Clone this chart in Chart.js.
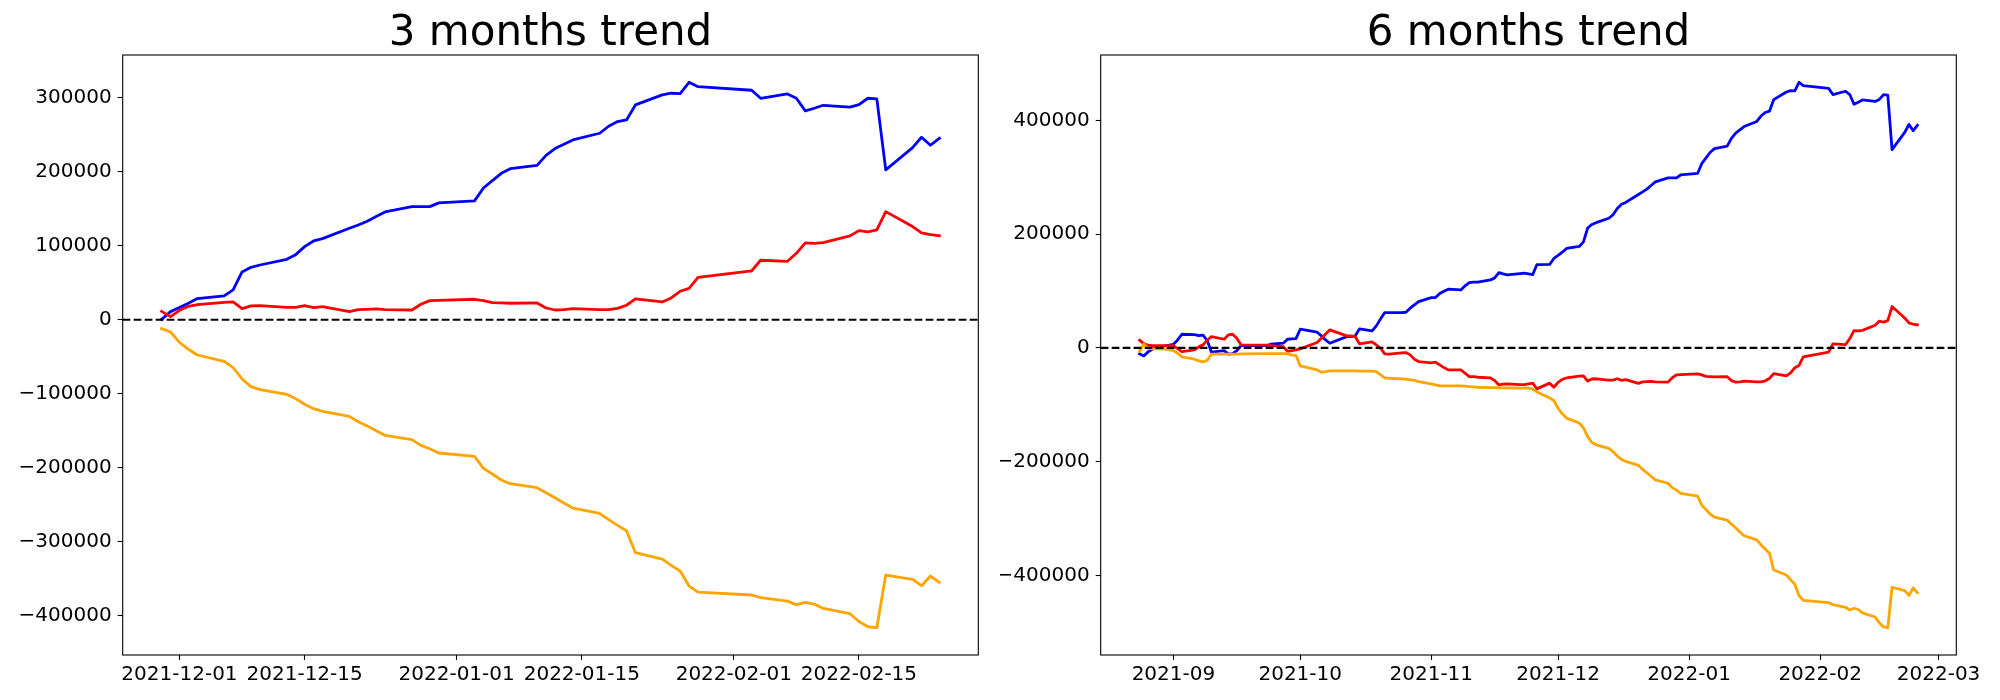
<!DOCTYPE html>
<html>
<head>
<meta charset="utf-8">
<title>3 / 6 months trend</title>
<script src="https://cdn.jsdelivr.net/npm/chart.js@4.4.1/dist/chart.umd.min.js"></script>
<style>
  html, body { margin: 0; padding: 0; background: #fff; overflow: hidden; }
  #wrap { position: relative; width: 2000px; height: 700px; }
  canvas { position: absolute; top: 0; }
  #chart3m { left: 0; }
  #chart6m { left: 1000px; }
</style>
</head>
<body>
<div id="wrap">
  <canvas id="chart3m" width="1000" height="700"></canvas>
  <canvas id="chart6m" width="1000" height="700"></canvas>
</div>
<script>
// ---- data: 3 months ----
const dates3m = [
  '2021-11-29','2021-11-30','2021-12-01','2021-12-02','2021-12-03','2021-12-06','2021-12-07','2021-12-08','2021-12-09','2021-12-10',
  '2021-12-13','2021-12-14','2021-12-15','2021-12-16','2021-12-17','2021-12-20','2021-12-21','2021-12-22','2021-12-23','2021-12-24',
  '2021-12-27','2021-12-28','2021-12-29','2021-12-30','2022-01-03','2022-01-04','2022-01-05','2022-01-06','2022-01-07','2022-01-10',
  '2022-01-11','2022-01-12','2022-01-13','2022-01-14','2022-01-17','2022-01-18','2022-01-19','2022-01-20','2022-01-21','2022-01-24',
  '2022-01-25','2022-01-26','2022-01-27','2022-01-28','2022-02-03','2022-02-04','2022-02-07','2022-02-08','2022-02-09','2022-02-10',
  '2022-02-11','2022-02-14','2022-02-15','2022-02-16','2022-02-17','2022-02-18','2022-02-21','2022-02-22','2022-02-23','2022-02-24'
];
const blue3m = [
  500, 11000, 16500, 22300, 28600, 32200, 40300, 64600, 70900, 74000,
  81700, 88000, 98800, 106500, 109600, 123600, 128100, 133100, 139400, 145700,
  152900, 152900, 152900, 157900, 160600, 178100, 188000, 197900, 204200, 208700,
  222200, 231300, 237100, 243000, 252000, 261500, 267800, 270000, 290300, 303800,
  306100, 305600, 320900, 315000, 310100, 299300, 305100, 299300, 282200, 285800,
  289800, 287200, 290700, 299300, 298400, 202500, 232700, 246600, 235800, 245300
];
const red3m = [
  11400, 4200, 12800, 18200, 20500, 23600, 24100, 15000, 18700, 19100,
  16800, 16800, 19100, 16400, 17700, 11000, 13700, 14100, 14600, 13700,
  13200, 20900, 25900, 26300, 27700, 25900, 23200, 22700, 22300, 22700,
  15900, 13200, 13700, 15000, 13700, 13700, 15500, 19600, 28100, 24100,
  29500, 38500, 42500, 57400, 66000, 80400, 79000, 89800, 103800, 103300,
  104200, 113300, 120500, 118700, 121400, 146100, 125900, 117300, 115000, 113700
];
const orange3m = [
  -12000, -16500, -30500, -39900, -47600, -56100, -64700, -80000, -90400, -94400,
  -100700, -106600, -114200, -120100, -123700, -130500, -137700, -143600, -149800, -156100,
  -162000, -169700, -174200, -180000, -184500, -200700, -208400, -216500, -221500, -226900,
  -233600, -240400, -247600, -254400, -261600, -270100, -277800, -285000, -314700, -323300,
  -331800, -339500, -359800, -367900, -371900, -375500, -380100, -385000, -381900, -384100,
  -390000, -397200, -407600, -414800, -416100, -344900, -350800, -359300, -346300, -354800
];
const xTicks3m = ['2021-12-01','2021-12-15','2022-01-01','2022-01-15','2022-02-01','2022-02-15'];
const yTicks3m = [-400000, -300000, -200000, -100000, 0, 100000, 200000, 300000];

// ---- data: 6 months ----
const dates6m = [
  '2021-08-24','2021-08-25','2021-08-26','2021-08-27','2021-08-30','2021-08-31',
  '2021-09-01','2021-09-02','2021-09-03','2021-09-06','2021-09-07','2021-09-08','2021-09-09','2021-09-10','2021-09-13','2021-09-14',
  '2021-09-15','2021-09-16','2021-09-17','2021-09-23','2021-09-24','2021-09-27','2021-09-28','2021-09-29','2021-09-30',
  '2021-10-01','2021-10-05','2021-10-06','2021-10-07','2021-10-08','2021-10-12','2021-10-13','2021-10-14','2021-10-15','2021-10-18',
  '2021-10-19','2021-10-20','2021-10-21','2021-10-22','2021-10-25','2021-10-26','2021-10-27','2021-10-28','2021-10-29',
  '2021-11-01','2021-11-02','2021-11-03','2021-11-04','2021-11-05','2021-11-08','2021-11-09','2021-11-10','2021-11-11','2021-11-12',
  '2021-11-15','2021-11-16','2021-11-17','2021-11-18','2021-11-19','2021-11-22','2021-11-23','2021-11-24','2021-11-25','2021-11-26'
].concat(dates3m);
const blue6m = [
  -10500, -14100, -7000, -2300, 3500, 4700,
  6400, 14000, 24000, 23500, 21700, 22300, 13000, -7600, -4700, -11000, -10000, -4700, 4100, 4100, 6400, 8200, 15200, 15800, 16400,
  32800, 27600, 21100, 14100, 8200, 19900, 19900, 21000, 33400, 29900, 38700, 51000, 62100, 62100, 62100, 62700, 69800, 75600, 81500,
  88500, 88500, 95600, 99700, 103200, 102000, 109100, 114900, 115500, 115500, 119600, 123000, 132500, 130100, 128400, 130700, 131300, 130200, 129000, 146600,
  146700, 157200, 162700, 168500, 174800, 178400, 186500, 210800, 217100, 220200,
  227900, 234200, 245000, 252700, 255800, 269800, 274300, 279300, 285600, 291900,
  299100, 299100, 299100, 304100, 306800, 324300, 334200, 344100, 350400, 354900,
  368400, 377500, 383300, 389200, 398200, 407700, 414000, 416200, 436500, 450000,
  452300, 451800, 467100, 461200, 456300, 445500, 451300, 445500, 428400, 432000,
  436000, 433400, 436900, 445500, 444600, 348700, 378900, 392800, 382000, 391500
];
const red6m = [
  13500, 7600, 4700, 4100, 4100, 4100,
  4100, -1200, -6400, -3500, 1800, 5300, 13500, 19900, 15200, 22900, 24000, 17000, 5300, 4700, 4100, 2300, -5900, -4700, -3500,
  -1800, 9400, 17000, 24600, 31700, 21100, 21100, 20000, 7000, 10600, 5300, -600, -10600, -11000, -8800, -8200, -12300, -19900, -24000,
  -26400, -25200, -29900, -34600, -38700, -38700, -44600, -50400, -50400, -51600, -52800, -57500, -65100, -63900, -63300, -64500, -64500, -63300, -62100, -72100,
  -62000, -69200, -60600, -55200, -52900, -49800, -49300, -58400, -54700, -54300,
  -56600, -56600, -54300, -57000, -55700, -62400, -59700, -59300, -58800, -59700,
  -60200, -52500, -47500, -47100, -45700, -47500, -50200, -50700, -51100, -50700,
  -57500, -60200, -59700, -58400, -59700, -59700, -57900, -53800, -45300, -49300,
  -43900, -34900, -30900, -16000, -7400, 7000, 5600, 16400, 30400, 29900,
  30800, 39900, 47100, 45300, 48000, 72700, 52500, 43900, 41600, 40300
];
const orange6m = [
  -6000, 7000, -1000, -1800, -2300, -3500,
  -4700, -9400, -15800, -19900, -22900, -24600, -22000, -11100, -11100, -11100, -11100, -11100, -10600, -10000, -10000, -10000, -10600, -12300, -13500,
  -31700, -38700, -42800, -41600, -40500, -40500, -40500, -40500, -41000, -41000, -41600, -47500, -52800, -53400, -54500, -55100, -56300, -56900, -59200,
  -63300, -65100, -66800, -66800, -66800, -66800, -67400, -68000, -68600, -69200, -69800, -69800, -70400, -70400, -70400, -70900, -70900, -70900, -72700, -77400,
  -88000, -92500, -106500, -115900, -123600, -132100, -140700, -156000, -166400, -170400,
  -176700, -182600, -190200, -196100, -199700, -206500, -213700, -219600, -225800, -232100,
  -238000, -245700, -250200, -256000, -260500, -276700, -284400, -292500, -297500, -302900,
  -309600, -316400, -323600, -330400, -337600, -346100, -353800, -361000, -390700, -399300,
  -407800, -415500, -435800, -443900, -447900, -451500, -456100, -461000, -457900, -460100,
  -466000, -473200, -483600, -490800, -492100, -420900, -426800, -435300, -422300, -430800
];
const xTicks6m = ['2021-09','2021-10','2021-11','2021-12','2022-01','2022-02','2022-03'];
const yTicks6m = [-400000, -200000, 0, 200000, 400000];

// ---- helpers ----
const dayNum = s => Date.parse((s.length === 7 ? s + '-01' : s) + 'T00:00:00Z') / 864e5;

// matplotlib style autoscale: data range plus 5% on each side
const withMargin = (lo, hi) => {
    const m = (hi - lo) * 0.05;
    return [lo - m, hi + m];
};

const tickFont = { family: 'DejaVu Sans', size: 20 };
const axisGrid = {
    display: true,
    drawOnChartArea: false,
    drawTicks: true,
    tickLength: 5,
    tickColor: '#000',
    tickWidth: 1.1
};

// frame of the axes + dashed zero line
const axesDecor = {
    id: 'axesDecor',
    afterDatasetsDraw(chart) {
        const { ctx, chartArea: a, scales: { y } } = chart;
        const py = y.getPixelForValue(0);
        ctx.save();
        ctx.strokeStyle = '#000';
        ctx.lineWidth = 2.1;
        ctx.setLineDash([7.7, 3.3]);
        ctx.beginPath();
        ctx.moveTo(a.left, py);
        ctx.lineTo(a.right, py);
        ctx.stroke();
        ctx.restore();
    },
    afterDraw(chart) {
        const { ctx, chartArea: a } = chart;
        ctx.save();
        ctx.strokeStyle = '#000';
        ctx.lineWidth = 1.1;
        ctx.strokeRect(a.left, a.top, a.right - a.left, a.bottom - a.top);
        ctx.restore();
    }
};

const makeChart = (canvasId, opts) => {
    const xs = opts.dates.map(dayNum);
    const allY = opts.series.flatMap(s => s.values);
    const xb = withMargin(Math.min(...xs), Math.max(...xs));
    const yb = withMargin(Math.min(...allY), Math.max(...allY));

    const datasets = opts.series.map(s => ({
        data: s.values.map((v, i) => ({ x: xs[i], y: v })),
        borderColor: s.color,
        borderWidth: 2.8,
        pointRadius: 0,
        tension: 0,
        fill: false,
        borderJoinStyle: 'round',
        borderCapStyle: 'square',
        order: s.order
    }));

    return new Chart(document.getElementById(canvasId), {
        type: 'line',
        data: { datasets },
        plugins: [axesDecor],
        options: {
            responsive: false,
            animation: false,
            devicePixelRatio: 1,
            layout: { padding: { left: 0, right: opts.padRight, top: 0, bottom: 0 } },
            plugins: {
                legend: { display: false },
                tooltip: { enabled: false },
                title: {
                    display: true,
                    text: opts.title,
                    fullSize: false,
                    color: '#000',
                    font: { family: 'DejaVu Sans', size: 42, weight: 'normal', lineHeight: 1 },
                    padding: { top: 13, bottom: 0 }
                }
            },
            scales: {
                x: {
                    type: 'linear',
                    min: xb[0],
                    max: xb[1],
                    afterBuildTicks: s => { s.ticks = opts.xTicks.map(t => ({ value: dayNum(t) })); },
                    afterFit: s => { s.height = 45; },
                    ticks: {
                        autoSkip: false,
                        maxRotation: 0,
                        padding: 3,
                        color: '#000',
                        font: tickFont,
                        callback: (v, i) => opts.xTicks[i]
                    },
                    grid: axisGrid,
                    border: { display: false }
                },
                y: {
                    type: 'linear',
                    min: yb[0],
                    max: yb[1],
                    afterBuildTicks: s => { s.ticks = opts.yTicks.map(v => ({ value: v })); },
                    afterFit: s => { s.width = opts.yWidth; },
                    ticks: {
                        padding: 6,
                        color: '#000',
                        font: tickFont,
                        callback: v => (v < 0 ? '\u2212' + Math.abs(v) : String(v))
                    },
                    grid: axisGrid,
                    border: { display: false }
                }
            }
        }
    });
};

makeChart('chart3m', {
    title: '3 months trend',
    dates: dates3m,
    series: [
        { values: blue3m, color: '#0000ff', order: 3 },
        { values: red3m, color: '#ff0000', order: 2 },
        { values: orange3m, color: '#ffa500', order: 1 }
    ],
    xTicks: xTicks3m,
    yTicks: yTicks3m,
    yWidth: 122.7,
    padRight: 21.7
});

makeChart('chart6m', {
    title: '6 months trend',
    dates: dates6m,
    series: [
        { values: blue6m, color: '#0000ff', order: 3 },
        { values: red6m, color: '#ff0000', order: 2 },
        { values: orange6m, color: '#ffa500', order: 1 }
    ],
    xTicks: xTicks6m,
    yTicks: yTicks6m,
    yWidth: 100.7,
    padRight: 43.7
});
</script>
</body>
</html>
